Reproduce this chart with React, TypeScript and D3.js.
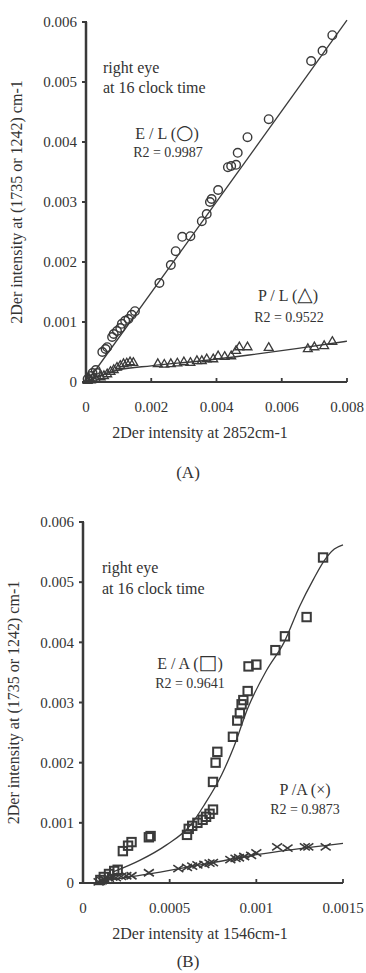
import * as d3 from "d3";

// tick values / labels
const yTicks = [0, 0.001, 0.002, 0.003, 0.004, 0.005, 0.006];
const yTickLabels = ["0", "0.001", "0.002", "0.003", "0.004", "0.005", "0.006"];
const xTicksA = [0, 0.002, 0.004, 0.006, 0.008];
const xTickLabelsA = ["0", "0.002", "0.004", "0.006", "0.008"];
const xTicksB = [0, 0.0005, 0.001, 0.0015];
const xTickLabelsB = ["0", "0.0005", "0.001", "0.0015"];

// panel A: E/L (circles)
const elPoints = [
  [0.00005, 0.00005], [0.00015, 0.0001], [0.0002, 0.00015], [0.0003, 0.0002], [0.00035, 0.00015],
  [0.0005, 0.0005], [0.0006, 0.00055], [0.00065, 0.00058], [0.0008, 0.00075], [0.00085, 0.0008],
  [0.00095, 0.00085], [0.00105, 0.0009], [0.0011, 0.00097], [0.0012, 0.00102], [0.0013, 0.00105],
  [0.0014, 0.00112], [0.0015, 0.00118], [0.00225, 0.00165], [0.0026, 0.00195], [0.00275, 0.00218],
  [0.00295, 0.00242], [0.0032, 0.00243], [0.00355, 0.00268], [0.0037, 0.0028], [0.0038, 0.003],
  [0.00385, 0.00305], [0.00405, 0.0032], [0.00435, 0.00358], [0.00445, 0.0036], [0.0046, 0.00362],
  [0.00465, 0.00382], [0.00495, 0.00408], [0.0056, 0.00438], [0.0069, 0.00535], [0.00725, 0.00552],
  [0.00755, 0.00578],
];
const elTrend = [[0.00003, 0], [0.008, 0.00603]];

// panel A: P/L (triangles)
const plPoints = [
  [0.00005, 0.00002], [0.0001, 0.00005], [0.00015, 0.00003], [0.0002, 0.00006], [0.0003, 0.00005],
  [0.00045, 0.00008], [0.00055, 0.0001], [0.00065, 0.00013], [0.00075, 0.00017], [0.00085, 0.0002],
  [0.00095, 0.00024], [0.00105, 0.00027], [0.00115, 0.0003], [0.00125, 0.00031], [0.00135, 0.00033],
  [0.00145, 0.00032], [0.0022, 0.0003], [0.0024, 0.00029], [0.0026, 0.0003], [0.0028, 0.00031],
  [0.003, 0.00033], [0.0032, 0.00032], [0.0034, 0.00035], [0.00355, 0.00035], [0.0037, 0.00038],
  [0.0039, 0.00038], [0.00405, 0.00043], [0.00425, 0.00042], [0.00445, 0.00043], [0.0046, 0.00052],
  [0.0047, 0.00058], [0.00495, 0.00058], [0.0056, 0.00057], [0.0068, 0.00055], [0.007, 0.00058],
  [0.0073, 0.0006], [0.00755, 0.00067],
];
const plTrend = [
  [0.00005, 0], [0.0002, 0.00006], [0.0005, 0.00012], [0.001, 0.0002], [0.002, 0.00027],
  [0.0035, 0.00035], [0.005, 0.00045], [0.0065, 0.00056], [0.008, 0.00068],
];

// panel B: E/A (squares)
const eaPoints = [
  [0.0001, 0.00005], [0.00012, 0.0001], [0.00015, 0.00015], [0.00018, 0.0002], [0.0002, 0.00022],
  [0.00023, 0.00053], [0.00026, 0.00062], [0.00028, 0.00068], [0.00038, 0.00076], [0.00039, 0.00078],
  [0.0006, 0.0008], [0.00061, 0.0009], [0.00063, 0.00095], [0.00066, 0.001], [0.00069, 0.00105],
  [0.00071, 0.0011], [0.00073, 0.00115], [0.00075, 0.00122], [0.00075, 0.00168], [0.000765, 0.002],
  [0.000775, 0.00218], [0.000865, 0.00243], [0.00089, 0.0027], [0.000905, 0.00282], [0.000915, 0.00297],
  [0.000925, 0.00304], [0.00095, 0.00319], [0.000955, 0.0036], [0.001, 0.00363], [0.00111, 0.00387],
  [0.001165, 0.0041], [0.00129, 0.00442], [0.001385, 0.00541],
];
const eaTrend = [
  [0.00017, 0.00018], [0.00033, 0.00038], [0.00048, 0.00063], [0.00062, 0.00096], [0.0007, 0.0013],
  [0.0008, 0.0018], [0.00087, 0.00226], [0.00095, 0.0029], [0.00106, 0.00354], [0.00116, 0.004],
  [0.00125, 0.0046], [0.00133, 0.00505], [0.00139, 0.00535], [0.00145, 0.00555], [0.0015, 0.00562],
];

// panel B: P/A (crosses)
const paPoints = [
  [0.00009, 0.00002], [0.00011, 0.00004], [0.00012, 0.00006], [0.00013, 0.00005], [0.00015, 0.00008],
  [0.00017, 0.0001], [0.00019, 0.00009], [0.00022, 0.00011], [0.00025, 0.00012], [0.00028, 0.00012],
  [0.00038, 0.00017], [0.00055, 0.00024], [0.0006, 0.00026], [0.00063, 0.00028], [0.00066, 0.0003],
  [0.0007, 0.00031], [0.00073, 0.00033], [0.00075, 0.00034], [0.00085, 0.00039], [0.00088, 0.00041],
  [0.0009, 0.00042], [0.00093, 0.00044], [0.00097, 0.00046], [0.001, 0.0005], [0.00112, 0.0006],
  [0.00118, 0.00058], [0.00128, 0.0006], [0.0013, 0.0006], [0.0014, 0.0006],
];
const paTrend = [[0.0001, 0.00003], [0.0004, 0.00016], [0.00075, 0.00034], [0.001, 0.00047], [0.0015, 0.00066]];

const INK = "#3a3a3a";
const FONT = "'Liberation Serif', 'DejaVu Serif', serif";

type Pt = number[];

function Marker({ kind, x, y }: { kind: string; x: number; y: number }) {
  if (kind === "circle") return <circle cx={x} cy={y} r={4.3} fill="none" stroke={INK} strokeWidth={1.4} />;
  if (kind === "square") return <rect x={x - 4.2} y={y - 4.2} width={8.4} height={8.4} fill="none" stroke={INK} strokeWidth={2} />;
  if (kind === "triangle") {
    const p = d3.symbol().type(d3.symbolTriangle).size(34)();
    return <path d={p || ""} transform={`translate(${x},${y})`} fill="none" stroke={INK} strokeWidth={1.3} />;
  }
  return (
    <path d={`M${x - 5},${y - 3.5}L${x + 5},${y + 3.5}M${x - 5},${y + 3.5}L${x + 5},${y - 3.5}`} stroke={INK} strokeWidth={1.6} />
  );
}

type Note = { x: number; y: number; text: string; sym?: string; size: number; anchor?: string };

function Panel(props: {
  left: number;
  right: number;
  yTop: number;
  yZero: number;
  xMax: number;
  xTicks: number[];
  xTickLabels: string[];
  series: { pts: Pt[]; trend: Pt[]; kind: string }[];
  xTitle: string;
  caption: string;
  captionY: number;
  notes: Note[];
}) {
  const x = d3.scaleLinear().domain([0, props.xMax]).range([props.left, props.right]);
  const y = d3.scaleLinear().domain([0, 0.006]).range([props.yZero, props.yTop]);
  const line = d3.line<Pt>().x((d) => x(d[0])).y((d) => y(d[1])).curve(d3.curveMonotoneX);
  const midY = (props.yZero + props.yTop) / 2;
  return (
    <g fontFamily={FONT} fill="#333">
      {/* axes */}
      <line x1={props.left} x2={props.left} y1={props.yTop} y2={props.yZero} stroke={INK} strokeWidth={2.5} />
      <line x1={props.left} x2={props.right} y1={props.yZero} y2={props.yZero} stroke={INK} strokeWidth={2.2} />
      {yTicks.map((t, i) => (
        <g key={"y" + i}>
          <line x1={props.left - 4} x2={props.left + 1} y1={y(t)} y2={y(t)} stroke={INK} strokeWidth={2} />
          <text x={props.left - 9} y={y(t)} dy="0.35em" textAnchor="end" fontSize={15}>
            {yTickLabels[i]}
          </text>
        </g>
      ))}
      {props.xTicks.map((t, i) => (
        <g key={"x" + i}>
          <line x1={x(t)} x2={x(t)} y1={props.yZero} y2={props.yZero - 4} stroke={INK} strokeWidth={1.8} />
          <text x={x(t)} y={props.yZero + 30} textAnchor="middle" fontSize={15}>
            {props.xTickLabels[i]}
          </text>
        </g>
      ))}
      <text transform={`translate(${props.left - 64},${midY}) rotate(-90)`} textAnchor="middle" fontSize={16}>
        2Der intensity at (1735 or 1242) cm-1
      </text>
      <text x={200} y={props.yZero + 56} textAnchor="middle" fontSize={16}>
        {props.xTitle}
      </text>
      <text x={188} y={props.captionY} textAnchor="middle" fontSize={17}>
        {props.caption}
      </text>
      {/* data */}
      {props.series.map((s, si) => (
        <g key={"s" + si}>
          <path d={line(s.trend) || ""} fill="none" stroke={INK} strokeWidth={1.3} />
          {s.pts.map((p, pi) => (
            <Marker key={pi} kind={s.kind} x={x(p[0])} y={y(p[1])} />
          ))}
        </g>
      ))}
      {props.notes.map((n, i) => (
        <text key={"n" + i} x={n.x} y={n.y} fontSize={n.size} textAnchor={n.anchor || "start"}>
          {n.text}
          {n.sym ? (
            <>
              <tspan fontSize={n.size + 4} fontFamily="'DejaVu Sans', sans-serif">{n.sym}</tspan>
              <tspan>)</tspan>
            </>
          ) : null}
        </text>
      ))}
    </g>
  );
}

export default function App() {
  return (
    <svg width={366} height={973} style={{ position: "absolute", left: 0, top: 0, background: "#fff" }}>
      <Panel
        left={86}
        right={347}
        yTop={22}
        yZero={382}
        xMax={0.008}
        xTicks={xTicksA}
        xTickLabels={xTickLabelsA}
        series={[
          { pts: elPoints, trend: elTrend, kind: "circle" },
          { pts: plPoints, trend: plTrend, kind: "triangle" },
        ]}
        xTitle="2Der intensity at 2852cm-1"
        caption="(A)"
        captionY={478}
        notes={[
          { x: 103, y: 73, text: "right eye", size: 16 },
          { x: 103, y: 93, text: "at 16 clock time", size: 16 },
          { x: 167, y: 139, text: "E / L (", sym: "○", size: 16, anchor: "middle" },
          { x: 168, y: 157, text: "R2 = 0.9987", size: 14, anchor: "middle" },
          { x: 288, y: 301, text: "P / L (", sym: "△", size: 16, anchor: "middle" },
          { x: 289, y: 322, text: "R2 = 0.9522", size: 14, anchor: "middle" },
        ]}
      />
      <Panel
        left={83}
        right={343}
        yTop={522}
        yZero={883}
        xMax={0.0015}
        xTicks={xTicksB}
        xTickLabels={xTickLabelsB}
        series={[
          { pts: eaPoints, trend: eaTrend, kind: "square" },
          { pts: paPoints, trend: paTrend, kind: "cross" },
        ]}
        xTitle="2Der intensity at 1546cm-1"
        caption="(B)"
        captionY={967}
        notes={[
          { x: 102, y: 573, text: "right eye", size: 16 },
          { x: 102, y: 594, text: "at 16 clock time", size: 16 },
          { x: 190, y: 669, text: "E / A (", sym: "□", size: 16, anchor: "middle" },
          { x: 190, y: 688, text: "R2 = 0.9641", size: 14, anchor: "middle" },
          { x: 305, y: 795, text: "P /A (×)", size: 16, anchor: "middle" },
          { x: 305, y: 814, text: "R2 = 0.9873", size: 14, anchor: "middle" },
        ]}
      />
    </svg>
  );
}
